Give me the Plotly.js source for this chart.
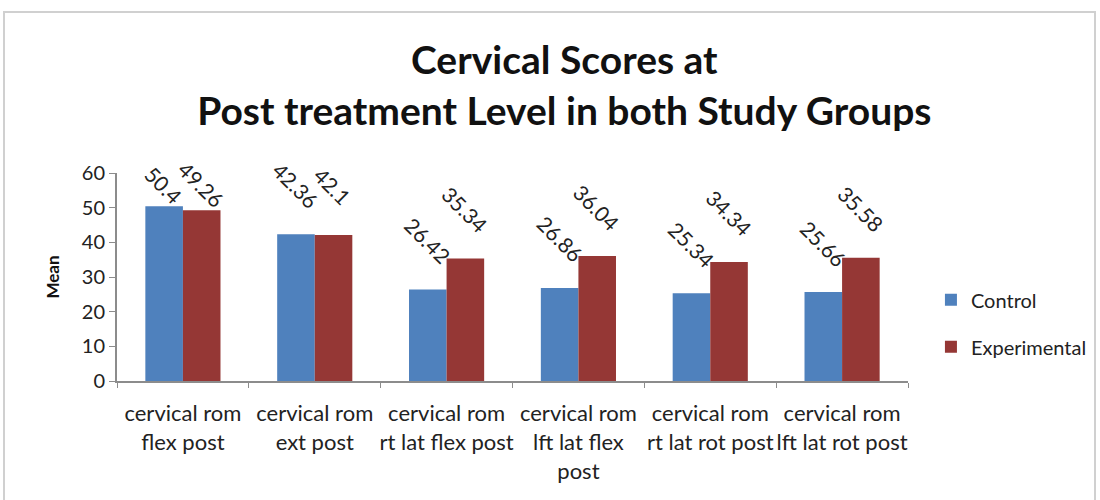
<!DOCTYPE html>
<html><head><meta charset="utf-8">
<script src="https://cdn.plot.ly/plotly-3.0.1.min.js"></script>
<style>
body{margin:0;background:#fff;}
#frame{position:absolute;left:3px;top:11px;width:1093px;height:492px;border:2px solid #d0d0d0;box-sizing:border-box;}
#chart{position:absolute;left:0;top:0;width:1100px;height:500px;}
</style></head>
<body>
<div id="frame"></div>
<div id="chart"></div>
<script>
const categories = ["cervical rom<br>flex post","cervical rom<br>ext post","cervical rom<br>rt lat flex post","cervical rom<br>lft lat flex<br>post","cervical rom<br>rt lat rot post","cervical rom<br>lft lat rot post"];
const control = [50.4, 42.36, 26.42, 26.86, 25.34, 25.66];
const experimental = [49.26, 42.1, 35.34, 36.04, 34.34, 35.58];
const yMax = 60;

const font = "Lato, 'Open Sans', sans-serif";
const plotH = 500 - 173 - 119;
const pxPerUnit = plotH / yMax;

const traces = [
  {type:'bar', name:'Control', legendgroup:'c', x:categories, y:control, marker:{color:'#4F81BD'}},
  {type:'bar', name:'Experimental', legendgroup:'e', x:categories, y:experimental, marker:{color:'#953735'}}
];

function labels(vals, dx){
  return vals.map((v,i)=>({
    x:categories[i], y:v, xref:'x', yref:'y', text:String(v), showarrow:false,
    textangle:45, xanchor:'center', yanchor:'middle',
    xshift:dx, yshift:Math.min(49, (yMax - v)*pxPerUnit - 12),
    font:{family:font,size:21,color:'#222'}
  }));
}

const layout = {
  width:1100, height:500,
  paper_bgcolor:'rgba(0,0,0,0)', plot_bgcolor:'rgba(0,0,0,0)',
  margin:{l:117, r:192, t:173, b:119, autoexpand:false},
  font:{family:font, size:18, color:'#222'},
  title:{text:'<b>Cervical Scores at<br>Post treatment Level in both Study Groups</b>',
         font:{family:font,size:39,color:'#111'}, x:0.513, xanchor:'center', y:0.852, yanchor:'top'},
  barmode:'group', bargap:0.43, bargroupgap:0,
  xaxis:{showline:true, linecolor:'#8c8c8c', linewidth:2, ticks:'outside', tickson:'boundaries',
         ticklen:5, tickcolor:'#8c8c8c', ticklabelstandoff:12, tickangle:0, automargin:false,
         tickfont:{family:font,size:22,color:'#222'}},
  yaxis:{range:[0,yMax], dtick:10, showgrid:false, zeroline:false, showline:true, linecolor:'#8c8c8c', linewidth:2,
         ticks:'outside', ticklen:6, tickcolor:'#8c8c8c', tickfont:{family:font,size:20,color:'#222'}, automargin:false,
         title:{text:'<b>Mean</b>', font:{family:font,size:17,color:'#111'}, standoff:18}},
  legend:{x:1.029, y:0.484, xanchor:'left', yanchor:'top', font:{family:font,size:20,color:'#222'},
          tracegroupgap:18, bgcolor:'rgba(0,0,0,0)'},
  showlegend:true,
  annotations: labels(control, -18.5).concat(labels(experimental, 18.5))
};
Plotly.newPlot('chart', traces, layout, {displayModeBar:false, staticPlot:true});
</script>
</body></html>
